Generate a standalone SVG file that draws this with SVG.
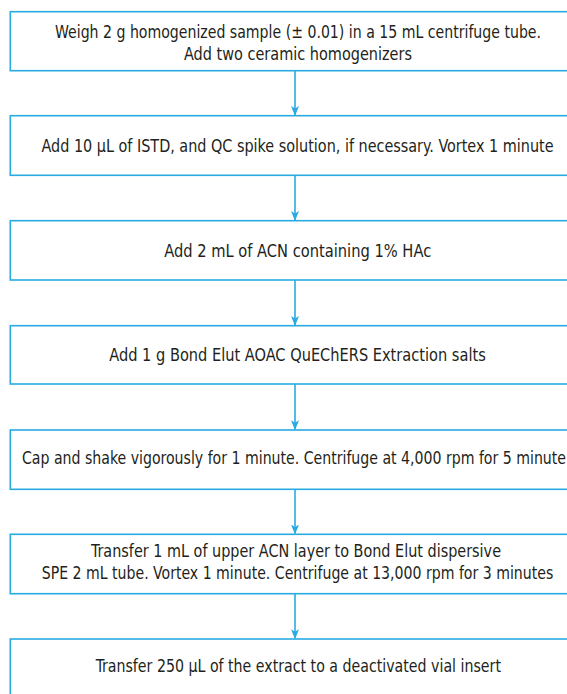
<svg xmlns="http://www.w3.org/2000/svg" width="567" height="694" viewBox="0 0 567 694">
<style>
.box{fill:#ffffff;stroke:#29abe2;stroke-width:1.6}
.lbl{font-family:"Liberation Sans Narrow","DejaVu Sans Condensed","Liberation Sans",sans-serif;font-size:17px;fill:#231f20;text-anchor:middle}
.lbls{font-family:"Liberation Sans Narrow","DejaVu Sans Condensed","Liberation Sans",sans-serif;font-size:17px;fill:#231f20;text-anchor:start}
.conn{stroke:#29abe2;stroke-width:1.6;fill:none}
</style>
<defs>
<marker id="arr" markerWidth="10" markerHeight="12" refX="9" refY="5" orient="auto" markerUnits="userSpaceOnUse" viewBox="0 0 10 10">
<path d="M0,1 L10,5 L0,9 L2.5,5 Z" fill="#29abe2"/>
</marker>
</defs>
<rect x="0" y="0" width="567" height="694" fill="#ffffff"/>
<g id="connectors">
<line class="conn" x1="295" y1="70.7" x2="295" y2="115" marker-end="url(#arr)"/>
<line class="conn" x1="295" y1="175.3" x2="295" y2="220" marker-end="url(#arr)"/>
<line class="conn" x1="295" y1="280" x2="295" y2="325" marker-end="url(#arr)"/>
<line class="conn" x1="295" y1="384" x2="295" y2="429.3" marker-end="url(#arr)"/>
<line class="conn" x1="295" y1="489.3" x2="295" y2="533.6" marker-end="url(#arr)"/>
<line class="conn" x1="295" y1="593.7" x2="295" y2="638.3" marker-end="url(#arr)"/>
</g>
<g id="step1">
<rect class="box" x="10.3" y="11.7" width="580" height="59"/>
<text class="lbl" x="298" y="38" textLength="486" lengthAdjust="spacingAndGlyphs">Weigh 2 g homogenized sample (± 0.01) in a 15 mL centrifuge tube.</text>
<text class="lbl" x="298" y="59.8" textLength="228" lengthAdjust="spacingAndGlyphs">Add two ceramic homogenizers</text>
</g>
<g id="step2">
<rect class="box" x="10.3" y="115.7" width="580" height="59.6"/>
<text class="lbl" x="297.5" y="152" textLength="512" lengthAdjust="spacingAndGlyphs">Add 10 µL of ISTD, and QC spike solution, if necessary. Vortex 1 minute</text>
</g>
<g id="step3">
<rect class="box" x="10.3" y="220.7" width="580" height="59.3"/>
<text class="lbl" x="297.7" y="256.7" textLength="267" lengthAdjust="spacingAndGlyphs">Add 2 mL of ACN containing 1% HAc</text>
</g>
<g id="step4">
<rect class="box" x="10.3" y="325.7" width="580" height="58.3"/>
<text class="lbl" x="297.5" y="360.9" textLength="376.5" lengthAdjust="spacingAndGlyphs">Add 1 g Bond Elut AOAC QuEChERS Extraction salts</text>
</g>
<g id="step5">
<rect class="box" x="10.3" y="430" width="580" height="59.3"/>
<text class="lbls" x="22" y="464.3" textLength="544" lengthAdjust="spacingAndGlyphs">Cap and shake vigorously for 1 minute. Centrifuge at 4,000 rpm for 5 minute</text>
</g>
<g id="step6">
<rect class="box" x="10.3" y="534.3" width="580" height="59.4"/>
<text class="lbl" x="296" y="557.3" textLength="410" lengthAdjust="spacingAndGlyphs">Transfer 1 mL of upper ACN layer to Bond Elut dispersive</text>
<text class="lbl" x="297.5" y="578.5" textLength="511.6" lengthAdjust="spacingAndGlyphs">SPE 2 mL tube. Vortex 1 minute. Centrifuge at 13,000 rpm for 3 minutes</text>
</g>
<g id="step7">
<rect class="box" x="10.3" y="639" width="580" height="70"/>
<text class="lbl" x="298.3" y="671.7" textLength="405.3" lengthAdjust="spacingAndGlyphs">Transfer 250 µL of the extract to a deactivated vial insert</text>
</g>
</svg>
